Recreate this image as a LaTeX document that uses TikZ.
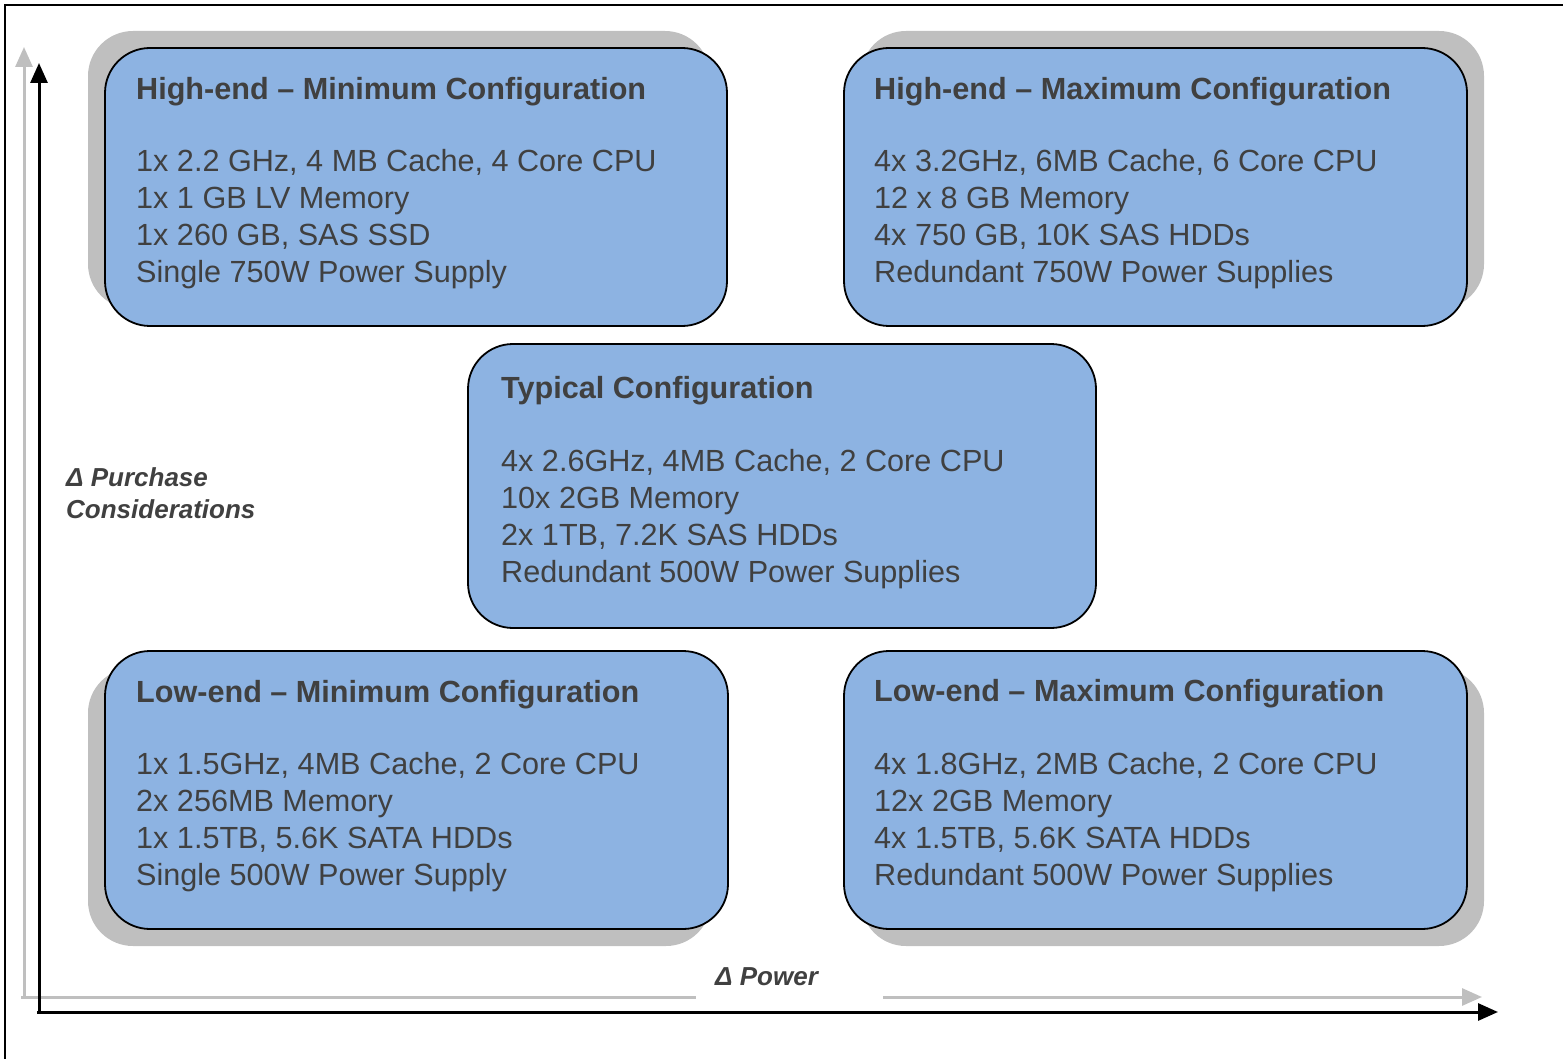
\documentclass[tikz,border=0pt]{standalone}
\usepackage{fontspec}
\setmainfont{Liberation Sans}
\usetikzlibrary{arrows.meta}
\definecolor{boxblue}{HTML}{8DB3E2}
\definecolor{txtgray}{HTML}{404040}
\definecolor{shgray}{HTML}{BFBFBF}
\begin{document}
\begin{tikzpicture}[x=1pt,y=-1pt,
  cfgbox/.style={draw=black, line width=1.8pt, fill=boxblue, rounded corners=45pt, inner sep=0pt},
  shadowbox/.style={fill=shgray, rounded corners=45pt},
  ttl/.style={anchor=base west, inner sep=0pt, text=txtgray, font=\fontsize{30.6}{37}\selectfont\bfseries},
  ln/.style={anchor=base west, inner sep=0pt, text=txtgray, font=\fontsize{30.6}{37}\selectfont},
  axlbl/.style={anchor=base west, inner sep=0pt, text=txtgray, font=\fontsize{26}{32}\selectfont\bfseries\itshape},
  grayaxis/.style={draw=shgray, line width=3pt, -{Triangle[length=20pt,width=17pt]}},
  blackaxis/.style={draw=black, line width=3pt, -{Triangle[length=20pt,width=17pt]}},
  frameline/.style={draw=black, line width=2pt}]
\useasboundingbox (0,0) rectangle (1563,1059);
% outer frame
\coordinate (f1) at (1563,5);
\coordinate (f2) at (5,5);
\coordinate (f3) at (5,1059);
\draw[frameline] (f1) -- (f2) -- (f3);
% gray axes
\coordinate (gtop) at (24,47);
\coordinate (gorg) at (24,997);
\coordinate (gstart) at (21,997);
\coordinate (gright) at (1482,997);
\draw[grayaxis] (gorg) -- (gtop);
\draw[grayaxis] (gstart) -- (gright);
% shadows
\fill[shadowbox] (88,31) rectangle (710,309);
\fill[shadowbox] (861,31) rectangle (1484,309);
\fill[shadowbox] (88,668) rectangle (711,946);
\fill[shadowbox] (861,668) rectangle (1484,946);
% boxes
\node[cfgbox, minimum width=622pt, minimum height=278pt] (b1) at (416,187) {};
\node[cfgbox, minimum width=623pt, minimum height=278pt] (b2) at (1155.5,187) {};
\node[cfgbox, minimum width=628pt, minimum height=284pt] (bc) at (782,486) {};
\node[cfgbox, minimum width=623pt, minimum height=278pt] (b4) at (416.5,790) {};
\node[cfgbox, minimum width=623pt, minimum height=278pt] (b5) at (1155.5,790) {};
% box 1 text
\node[ttl] (b1t) at (136,100) {High-end – Minimum Configuration};
\node[ln] (b1a) at (136,172) {1x 2.2 GHz, 4 MB Cache, 4 Core CPU};
\node[ln] (b1b) at (136,209) {1x 1 GB LV Memory};
\node[ln] (b1c) at (136,246) {1x 260 GB, SAS SSD};
\node[ln] (b1d) at (136,283) {Single 750W Power Supply};
% box 2 text
\node[ttl] (b2t) at (874,100) {High-end – Maximum Configuration};
\node[ln] (b2a) at (874,172) {4x 3.2GHz, 6MB Cache, 6 Core CPU};
\node[ln] (b2b) at (874,209) {12 x 8 GB Memory};
\node[ln] (b2c) at (874,246) {4x 750 GB, 10K SAS HDDs};
\node[ln] (b2d) at (874,283) {Redundant 750W Power Supplies};
% center text
\node[ttl] (bct) at (501,398) {Typical Configuration};
\node[ln] (bca) at (501,471) {4x 2.6GHz, 4MB Cache, 2 Core CPU};
\node[ln] (bcb) at (501,508) {10x 2GB Memory};
\node[ln] (bcc) at (501,545) {2x 1TB, 7.2K SAS HDDs};
\node[ln] (bcd) at (501,582) {Redundant 500W Power Supplies};
% box 4 text
\node[ttl] (b4t) at (136,702) {Low-end – Minimum Configuration};
\node[ln] (b4a) at (136,774) {1x 1.5GHz, 4MB Cache, 2 Core CPU};
\node[ln] (b4b) at (136,811) {2x 256MB Memory};
\node[ln] (b4c) at (136,848) {1x 1.5TB, 5.6K SATA HDDs};
\node[ln] (b4d) at (136,885) {Single 500W Power Supply};
% box 5 text
\node[ttl] (b5t) at (874,701) {Low-end – Maximum Configuration};
\node[ln] (b5a) at (874,774) {4x 1.8GHz, 2MB Cache, 2 Core CPU};
\node[ln] (b5b) at (874,811) {12x 2GB Memory};
\node[ln] (b5c) at (874,848) {4x 1.5TB, 5.6K SATA HDDs};
\node[ln] (b5d) at (874,885) {Redundant 500W Power Supplies};
% white patch behind power label
\node[fill=white, inner sep=0pt, minimum width=187pt, minimum height=42pt] (pwbg) at (789.5,989) {};
% black axes
\coordinate (btop) at (39,63);
\coordinate (borg) at (39,1012);
\coordinate (bstart) at (37,1012);
\coordinate (bright) at (1498,1012);
\draw[blackaxis] (borg) -- (btop);
\draw[blackaxis] (bstart) -- (bright);
% axis labels
\node[axlbl] (pc1) at (66,486) {Δ Purchase};
\node[axlbl] (pc2) at (66,518) {Considerations};
\node[axlbl] (pw) at (715,985) {Δ Power};
\end{tikzpicture}
\end{document}
